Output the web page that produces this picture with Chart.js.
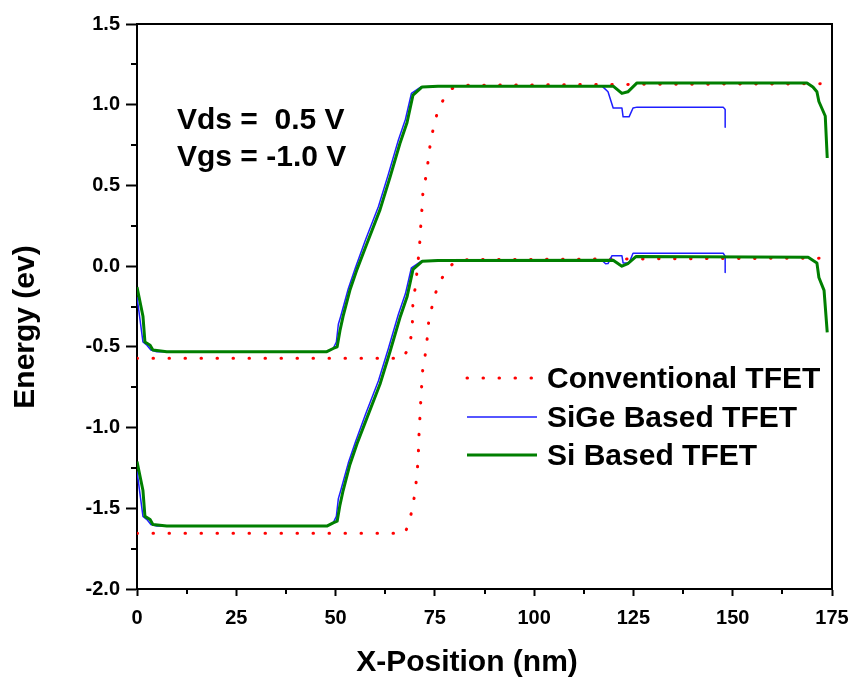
<!DOCTYPE html>
<html lang="en">
  <head>
    <meta charset="UTF-8" />
    <title>TFET Energy Band Diagram</title>
    <style>
      html,
      body {
        margin: 0;
        padding: 0;
        background: #fff;
      }
      #wrap {
        width: 855px;
        height: 682px;
      }
    </style>
  </head>
  <body>
    <div id="wrap">
      <canvas id="bands" width="855" height="682"></canvas>
    </div>

    <script src="https://cdn.jsdelivr.net/npm/chart.js"></script>

    <script>
      // [x (nm), energy (eV)]
      const conventionalCB = [
        [0, -0.57], [67.0, -0.57], [68.5, -0.5], [69.3, -0.4], [69.5, -0.2],
        [70.3, -0.11], [70.5, -0.02], [71.0, 0.08], [71.3, 0.18], [71.5, 0.27],
        [71.8, 0.37], [72.0, 0.46], [72.8, 0.56], [73.3, 0.65], [73.8, 0.75],
        [74.5, 0.84], [75.5, 0.94], [77.1, 1.03], [79.3, 1.1], [82, 1.12],
        [115, 1.125], [175, 1.13],
      ];
      const conventionalVB = [
        [0, -1.655], [67.5, -1.655], [68.7, -1.57], [69.5, -1.48], [70.0, -1.4],
        [70.5, -1.29], [70.8, -1.19], [71.0, -1.05], [71.3, -0.91], [71.5, -0.81],
        [72.0, -0.62], [72.8, -0.52], [73.5, -0.33], [74.5, -0.23], [75.5, -0.14],
        [77.1, -0.06], [79.3, 0.01], [82, 0.04], [175, 0.05],
      ];
      const sigeCB = [
        [0, -0.19], [1.5, -0.47], [2.5, -0.49], [3.5, -0.52], [5, -0.53],
        [47.8, -0.53], [49.4, -0.51], [50.2, -0.47], [50.7, -0.36], [51.3, -0.31],
        [53.2, -0.14], [55.0, -0.01], [57.5, 0.16], [60.8, 0.37], [63.3, 0.57],
        [65.8, 0.78], [67.6, 0.91], [69.1, 1.07], [71.5, 1.11], [75.5, 1.115],
        [117.1, 1.115], [118.6, 1.08], [119.9, 0.98], [122.1, 0.98], [122.4, 0.925],
        [123.9, 0.925], [124.9, 0.98], [125.9, 0.985], [147.6, 0.985], [148.1, 0.97],
        [148.1, 0.86],
      ];
      const sigeVB = [
        [0, -1.27], [1.5, -1.55], [2.5, -1.57], [3.5, -1.6], [5, -1.61],
        [47.8, -1.61], [49.4, -1.59], [50.2, -1.55], [50.7, -1.44], [51.3, -1.39],
        [53.2, -1.22], [55.0, -1.09], [57.5, -0.92], [60.8, -0.71], [63.3, -0.51],
        [65.8, -0.3], [67.6, -0.17], [69.1, -0.01], [71.5, 0.03], [75.5, 0.035],
        [117.1, 0.035], [118.0, 0.015], [118.6, 0.016], [119.6, 0.065], [122.1, 0.065],
        [122.4, 0.02], [123.9, 0.02], [124.9, 0.08], [147.6, 0.08], [148.1, 0.06],
        [148.1, -0.04],
      ];
      const siCB = [
        [0, -0.13], [1.5, -0.31], [2.0, -0.47], [3.3, -0.49], [4.0, -0.52],
        [7.5, -0.53], [47.8, -0.53], [49.4, -0.51], [50.4, -0.5], [51.1, -0.4],
        [51.9, -0.31], [53.6, -0.15], [55.4, -0.02], [57.9, 0.14], [61.2, 0.35],
        [63.7, 0.55], [66.2, 0.76], [68.0, 0.89], [69.5, 1.06], [71.8, 1.11],
        [75.8, 1.115], [119.9, 1.115], [122.1, 1.07], [123.6, 1.08], [125.9, 1.135],
        [168.7, 1.135], [170.2, 1.11], [171.2, 1.08], [171.7, 1.02], [173.3, 0.93],
        [173.8, 0.67],
      ];
      const siVB = [
        [0, -1.21], [1.5, -1.39], [2.0, -1.55], [3.3, -1.57], [4.0, -1.6],
        [7.5, -1.61], [47.8, -1.61], [49.4, -1.59], [50.4, -1.58], [51.1, -1.48],
        [51.9, -1.39], [53.6, -1.23], [55.4, -1.1], [57.9, -0.94], [61.2, -0.73],
        [63.7, -0.53], [66.2, -0.32], [68.0, -0.19], [69.5, -0.02], [71.8, 0.03],
        [75.8, 0.035], [119.9, 0.037], [122.1, 0.0], [123.6, 0.016], [125.7, 0.06],
        [169.0, 0.055], [171.2, 0.02], [171.7, -0.07], [173.0, -0.15], [173.8, -0.41],
      ];

      const xTicks = [0, 25, 50, 75, 100, 125, 150, 175];
      const yTicks = [-2.0, -1.5, -1.0, -0.5, 0.0, 0.5, 1.0, 1.5];
      const seriesNames = ['Conventional TFET', 'SiGe Based TFET', 'Si Based TFET'];
      const biasText = ['Vds =  0.5 V', 'Vgs = -1.0 V'];
      const xTitle = 'X-Position (nm)';
      const yTitle = 'Energy (ev)';

      const FONT = '"Liberation Sans", Arial, sans-serif';
      Chart.defaults.font.family = FONT;
      Chart.defaults.color = '#000';

      const styles = [
        { color: '#ff0000', width: 3, dash: [0.5, 15.5], cap: 'round', order: 3 },
        { color: '#1e1eff', width: 1.5, dash: [], cap: 'butt', order: 2 },
        { color: '#007f00', width: 3, dash: [], cap: 'butt', order: 1 },
      ];

      const toPts = (arr) => arr.map(([x, y]) => ({ x, y }));

      function makeSet(pts, s) {
        return {
          data: toPts(pts),
          borderColor: s.color,
          borderWidth: s.width,
          borderDash: s.dash,
          borderCapStyle: s.cap,
          borderJoinStyle: 'round',
          pointRadius: 0,
          tension: 0,
          fill: false,
          order: s.order,
        };
      }

      const decorations = {
        id: 'decorations',
        afterDraw(chart) {
          const { ctx, chartArea: a, scales } = chart;
          const x = scales.x;
          const y = scales.y;
          ctx.save();
          ctx.strokeStyle = '#000';
          ctx.lineWidth = 2;

          // top and right frame
          ctx.beginPath();
          ctx.moveTo(a.left - 1, a.top);
          ctx.lineTo(a.right, a.top);
          ctx.lineTo(a.right, a.bottom + 1);
          ctx.stroke();

          // minor ticks halfway between the labelled ones
          ctx.beginPath();
          for (let i = 0; i < xTicks.length - 1; i++) {
            const px = Math.round(x.getPixelForValue((xTicks[i] + xTicks[i + 1]) / 2));
            ctx.moveTo(px, a.bottom);
            ctx.lineTo(px, a.bottom + 5);
          }
          for (let i = 0; i < yTicks.length - 1; i++) {
            const py = Math.round(y.getPixelForValue((yTicks[i] + yTicks[i + 1]) / 2));
            ctx.moveTo(a.left - 6, py);
            ctx.lineTo(a.left, py);
          }
          ctx.stroke();

          // axis titles
          ctx.fillStyle = '#000';
          ctx.font = 'bold 30px ' + FONT;
          ctx.textAlign = 'center';
          ctx.textBaseline = 'alphabetic';
          ctx.fillText(xTitle, 467, 671);
          ctx.save();
          ctx.translate(34, 327);
          ctx.rotate(-Math.PI / 2);
          ctx.fillText(yTitle, 0, 0);
          ctx.restore();

          // bias annotation
          ctx.textAlign = 'left';
          ctx.fillText(biasText[0], 177, 129);
          ctx.fillText(biasText[1], 177, 166);

          // legend
          const rows = [378, 417, 455];
          seriesNames.forEach((name, i) => {
            const s = styles[i];
            ctx.beginPath();
            ctx.strokeStyle = s.color;
            ctx.lineWidth = s.width;
            ctx.lineCap = s.cap;
            ctx.setLineDash(s.dash);
            ctx.moveTo(467, rows[i]);
            ctx.lineTo(537, rows[i]);
            ctx.stroke();
            ctx.setLineDash([]);
            ctx.fillStyle = '#000';
            ctx.fillText(name, 547, rows[i] + 10);
          });
          ctx.restore();
        },
      };

      new Chart(document.getElementById('bands'), {
        type: 'line',
        data: {
          datasets: [
            makeSet(conventionalCB, styles[0]),
            makeSet(conventionalVB, styles[0]),
            makeSet(sigeCB, styles[1]),
            makeSet(sigeVB, styles[1]),
            makeSet(siCB, styles[2]),
            makeSet(siVB, styles[2]),
          ],
        },
        options: {
          responsive: false,
          animation: false,
          devicePixelRatio: 1,
          layout: { padding: { top: 24, right: 23, left: 0, bottom: 0 } },
          plugins: { legend: { display: false }, tooltip: { enabled: false } },
          scales: {
            x: {
              type: 'linear',
              min: 0,
              max: 175,
              afterBuildTicks: (s) => {
                s.ticks = xTicks.map((v) => ({ value: v }));
              },
              afterFit: (s) => {
                s.height = 93;
                s.paddingLeft = 0;
                s.paddingRight = 0;
              },
              ticks: {
                autoSkip: false,
                maxRotation: 0,
                padding: 10,
                font: { size: 20, weight: 'bold' },
                callback: (v) => String(v),
              },
              grid: {
                drawOnChartArea: false,
                drawTicks: true,
                tickLength: 7,
                tickWidth: 2,
                tickColor: '#000',
              },
              border: { display: true, color: '#000', width: 2 },
            },
            y: {
              type: 'linear',
              min: -2,
              max: 1.5,
              afterBuildTicks: (s) => {
                s.ticks = yTicks.map((v) => ({ value: v }));
              },
              afterFit: (s) => {
                s.width = 137;
                s.paddingTop = 0;
                s.paddingBottom = 0;
              },
              ticks: {
                autoSkip: false,
                padding: 6,
                font: { size: 20, weight: 'bold' },
                callback: (v) => Number(v).toFixed(1),
              },
              grid: {
                drawOnChartArea: false,
                drawTicks: true,
                tickLength: 11,
                tickWidth: 2,
                tickColor: '#000',
              },
              border: { display: true, color: '#000', width: 2 },
            },
          },
        },
        plugins: [decorations],
      });
    </script>
  </body>
</html>
